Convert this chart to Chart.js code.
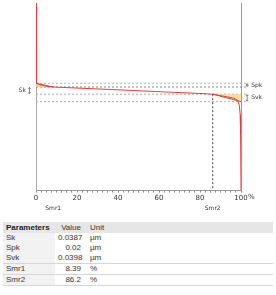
<!DOCTYPE html>
<html><head><meta charset="utf-8">
<script src="https://cdn.jsdelivr.net/npm/chart.js@4"></script>
<style>
html,body{margin:0;padding:0;background:#fff;width:276px;height:295px;overflow:hidden;font-family:"Liberation Sans",sans-serif;}
#wrap{position:absolute;left:0;top:0;width:276px;height:216px;}
table{position:absolute;left:3px;top:222px;width:270px;border-collapse:collapse;table-layout:fixed;font-size:8px;color:#333;font-family:"Liberation Sans",sans-serif;}
td,th{height:10px;padding:0 0 0 3px;line-height:10px;white-space:nowrap;overflow:visible;}
th{background:#e6e6e6;font-weight:normal;text-align:left;height:11px;line-height:11px;}
th.p{font-weight:bold;color:#222;}
td.n{background:#f2f2f2;}
td.v,th.v{text-align:right;padding-right:3px;}
td.u,th.u{padding-left:6px;}
tr.sep td{border-top:1px solid #d6d6d6;}
tr.last td{border-bottom:1px solid #d6d6d6;}
</style></head><body>
<div id="wrap"><canvas id="c"></canvas></div>
<table id="t"><colgroup><col style="width:52px"><col style="width:29px"><col></colgroup></table>
<script>
// ---- data ----
const paramNames = ["Sk","Spk","Svk","Smr1","Smr2"];
const paramValues = ["0.0387","0.02","0.0398","8.39","86.2"];
const paramUnits = ["µm","µm","µm","%","%"];
const Sk = 0.0387, Spk = 0.02, Svk = 0.0398, Smr1 = 8.39, Smr2 = 86.2;
// bearing area (Abbott-Firestone) curve: material ratio (%) and height (µm, relative to lower Sk level)
const curvePct = [0, 0, 0.3, 2, 5, 8.39, 20, 40, 60, 80, 86.2, 88, 90, 93, 96, 97.5, 98.5, 99.2, 99.6, 99.8, 100];
const curveHeight = [0.49, 0.062, 0.059, 0.051, 0.043, 0.0387, 0.033, 0.0235, 0.0135, 0.004, 0, -0.004, -0.008, -0.0135, -0.020, -0.027, -0.037, -0.06, -0.11, -0.22, -0.518];
const xTickLabels = ["0","20","40","60","80","100"];
const yMin = -0.518, yMax = 0.49;

// ---- table ----
const t = document.getElementById('t');
let html = '<tr><th class="p">Parameters</th><th class="v">Value</th><th class="u">Unit</th></tr>';
paramNames.forEach((n,i)=>{
  const cls = i===3 ? 'sep' : (i===4 ? 'sep last' : '');
  html += `<tr class="${cls}"><td class="n">${n}</td><td class="v">${paramValues[i]}</td><td class="u">${paramUnits[i]}</td></tr>`;
});
t.insertAdjacentHTML('beforeend', html);

// ---- chart ----
const skUp = Sk, skLo = 0, spkLvl = Sk + Spk, svkLvl = -Svk;
const lineExt = 103.5;
const curve = curvePct.map((x,i)=>({x, y: curveHeight[i]}));
function hline(y, col){ return {data:[{x:0,y},{x:lineExt,y}], borderColor:col, borderWidth:1, borderDash:[2,2], pointRadius:0, fill:false, clip:false, order:5}; }

const annot = {
  id:'annot',
  afterDatasetsDraw(chart){
    const {ctx, scales:{x, y}} = chart;
    ctx.save();
    ctx.fillStyle = '#333';
    ctx.strokeStyle = '#666';
    ctx.lineWidth = 0.8;
    ctx.font = '6px "DejaVu Sans"';
    ctx.textBaseline = 'middle';
    function arrow(px, y1, y2){
      const a = y.getPixelForValue(y1), b = y.getPixelForValue(y2);
      ctx.beginPath(); ctx.moveTo(px, a+0.5); ctx.lineTo(px, b-0.5); ctx.stroke();
      ctx.beginPath(); ctx.moveTo(px-1.2, a+1.8); ctx.lineTo(px, a+0.5); ctx.lineTo(px+1.2, a+1.8); ctx.stroke();
      ctx.beginPath(); ctx.moveTo(px-1.2, b-1.8); ctx.lineTo(px, b-0.5); ctx.lineTo(px+1.2, b-1.8); ctx.stroke();
    }
    const xl = x.getPixelForValue(-3.2), xr = x.getPixelForValue(103);
    arrow(xl, skUp, skLo);
    arrow(xr, spkLvl, skUp);
    arrow(xr, skLo, svkLvl);
    ctx.textAlign = 'left';
    ctx.fillText('Sk', x.getPixelForValue(-8.5), y.getPixelForValue((skUp+skLo)/2));
    ctx.fillText('Spk', x.getPixelForValue(105), y.getPixelForValue((spkLvl+skUp)/2));
    ctx.fillText('Svk', x.getPixelForValue(105), y.getPixelForValue((skLo+svkLvl)/2));
    ctx.textAlign = 'center';
    ctx.fillText('Smr1', x.getPixelForValue(Smr1), x.bottom + 5);
    ctx.fillText('Smr2', x.getPixelForValue(Smr2), x.bottom + 5);
    ctx.textAlign = 'left';
    ctx.font = '7px "DejaVu Sans"';
    ctx.fillText('%', x.getPixelForValue(100) + 7, x.top + 7);
    ctx.restore();
  }
};

new Chart(document.getElementById('c'), {
  type:'line',
  data:{datasets:[
    {data:curve, borderColor:'#ea3d3f', borderWidth:1, pointRadius:0, fill:false, tension:0, order:0},
    {data:[{x:0,y:spkLvl},{x:Smr1,y:skUp}], borderColor:'#8a3a26', borderWidth:0.8, pointRadius:0, fill:{value:skUp}, backgroundColor:'rgba(252,210,130,0.8)', order:1},
    {data:[{x:Smr2,y:skLo},{x:100,y:svkLvl}], borderColor:'#8a3a26', borderWidth:0.8, pointRadius:0, fill:{value:skLo}, backgroundColor:'rgba(252,210,130,0.8)', order:1},
    hline(spkLvl,'#b0b0b0'), hline(skUp,'#8a8a8a'), hline(skLo,'#a8a8a8'), hline(svkLvl,'#b0b0b0'),
    {data:[{x:Smr2,y:skLo},{x:Smr2,y:yMin}], borderColor:'#444', borderWidth:1, borderDash:[2,2], pointRadius:0, fill:false, order:4}
  ]},
  options:{
    responsive:true, maintainAspectRatio:false, animation:false,
    layout:{padding:{left:36, right:35, top:3, bottom:13}},
    plugins:{legend:{display:false}, tooltip:{enabled:false}},
    scales:{
      x:{type:'linear', min:0, max:100,
        ticks:{stepSize:2.5, autoSkip:false, maxRotation:0, padding:1, color:'#333', font:{size:7, family:'"DejaVu Sans"'},
          callback:(v)=> (Math.abs(v%20)<1e-9 ? xTickLabels[Math.round(v/20)] : '')},
        grid:{drawOnChartArea:false, tickLength:2, color:'#888'},
        border:{color:'#999'}},
      y:{type:'linear', min:yMin, max:yMax, position:'left',
        ticks:{display:false}, grid:{display:false, drawTicks:false}, border:{color:'#aaa'}},
      y2:{type:'linear', min:yMin, max:yMax, position:'right',
        ticks:{display:false}, grid:{display:false, drawTicks:false}, border:{color:'#999'}}
    }
  },
  plugins:[annot]
});
</script>
</body></html>
